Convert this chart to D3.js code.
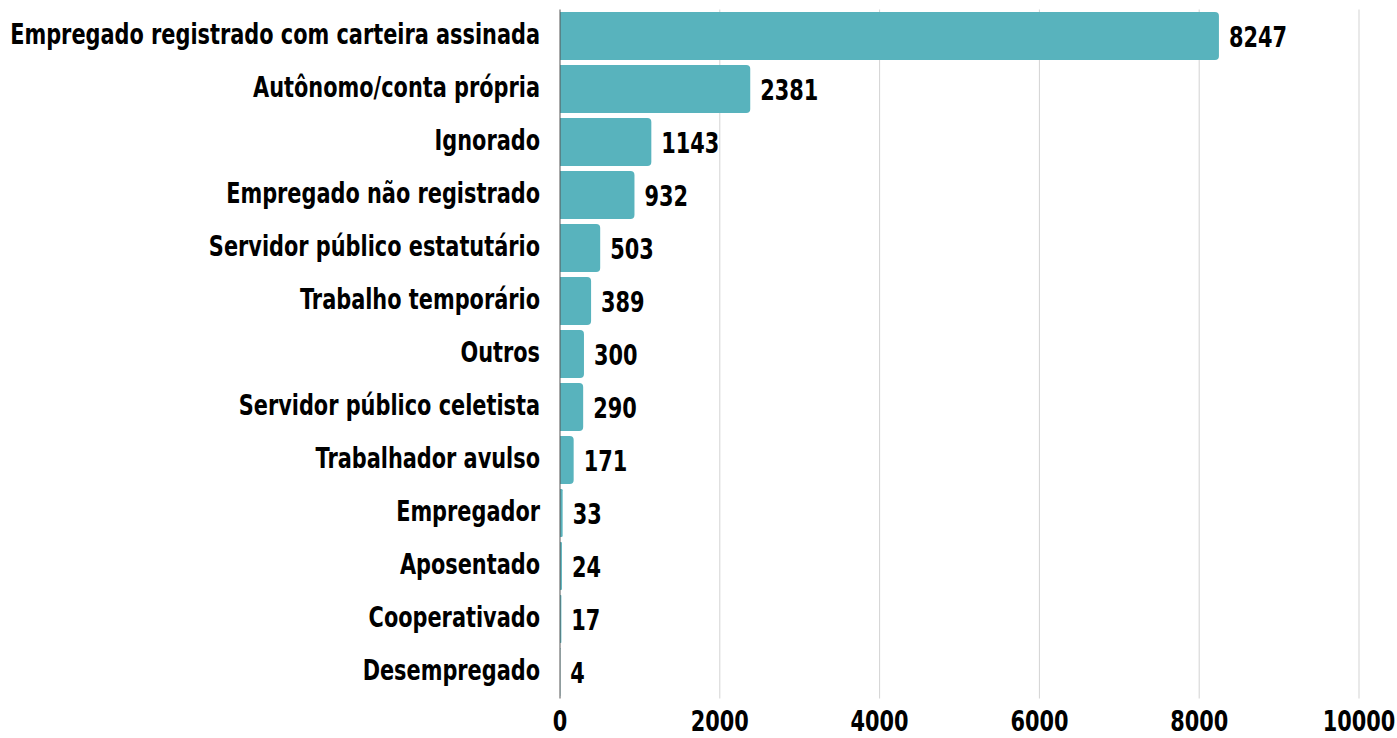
<!DOCTYPE html>
<html>
<head>
<meta charset="utf-8">
<script src="https://cdn.jsdelivr.net/npm/d3@7"></script>
<style>
  body { margin: 0; background: #fff; }
  text { font-family: "DejaVu Sans", sans-serif; font-weight: bold; fill: #000; font-size: 29px; }
</style>
</head>
<body>
<div id="chart"></div>
<script>
// categories and counts
const categories = [
  'Empregado registrado com carteira assinada',
  'Autônomo/conta própria',
  'Ignorado',
  'Empregado não registrado',
  'Servidor público estatutário',
  'Trabalho temporário',
  'Outros',
  'Servidor público celetista',
  'Trabalhador avulso',
  'Empregador',
  'Aposentado',
  'Cooperativado',
  'Desempregado'
];
const values = [8247, 2381, 1143, 932, 503, 389, 300, 290, 171, 33, 24, 17, 4];
const ticks = [0, 2000, 4000, 6000, 8000, 10000];

const width = 1397, height = 738;
const margin = {t:0, r:38, b:0, l:560};
const w = 1359 - margin.l;

const svg = d3.select('#chart').append('svg')
  .attr('width', width)
  .attr('height', height);

const plot = svg.append('g')
  .attr('transform', `translate(${margin.l},${margin.t})`);

const scaleX = d3.scaleLinear().domain([0, 10000]).range([0, w]);
const scaleY = d3.scaleBand().domain(categories).range([9.5, 698.5]).paddingInner(0.094).paddingOuter(0.047);
const [gy0, gy1] = scaleY.range();

// squeeze the text horizontally to get a condensed face
const probe = svg.append('text').text(categories[0]);
const sx = 530 / probe.node().getComputedTextLength();
probe.remove();

// gridlines
plot.selectAll('.grid')
  .data(ticks.slice(1))
  .enter().append('line')
  .attr('class', 'grid')
  .attr('x1', d => scaleX(d)).attr('x2', d => scaleX(d))
  .attr('y1', gy0).attr('y2', gy1)
  .style('stroke', '#d3d3d3')
  .style('stroke-width', 1);

// bars, rounded at the end
const data = categories.map((c, i) => ({cat: c, v: values[i]}));
const r = 4;
plot.selectAll('.bin')
  .data(data)
  .enter().append('path')
  .attr('class', 'bin')
  .attr('d', d => {
    const x1 = scaleX(d.v), y0 = scaleY(d.cat), bh = scaleY.bandwidth();
    const rr = Math.min(r, x1 / 2);
    return `M0,${y0}H${x1 - rr}Q${x1},${y0} ${x1},${y0 + rr}V${y0 + bh - rr}Q${x1},${y0 + bh} ${x1 - rr},${y0 + bh}H0Z`;
  })
  .style('fill', '#58b3bd');

// left axis line
plot.append('line')
  .attr('x1', 0).attr('x2', 0).attr('y1', gy0).attr('y2', gy1)
  .style('stroke', '#555').style('stroke-width', 1);

// value labels
plot.selectAll('.val')
  .data(data)
  .enter().append('text')
  .attr('class', 'val')
  .attr('transform', d => `translate(${scaleX(d.v) + 10},${scaleY(d.cat) + scaleY.bandwidth() / 2 + 11}) scale(${sx},1)`)
  .text(d => d.v);

// category labels
plot.selectAll('.cat')
  .data(data)
  .enter().append('text')
  .attr('class', 'cat')
  .attr('text-anchor', 'end')
  .attr('transform', d => `translate(-20,${scaleY(d.cat) + scaleY.bandwidth() / 2 + 8}) scale(${sx},1)`)
  .text(d => d.cat);

// x axis tick labels
plot.selectAll('.tick-x')
  .data(ticks)
  .enter().append('text')
  .attr('class', 'tick-x')
  .attr('text-anchor', 'middle')
  .attr('transform', d => `translate(${scaleX(d)},731) scale(${sx},1)`)
  .text(d => d);
</script>
</body>
</html>
